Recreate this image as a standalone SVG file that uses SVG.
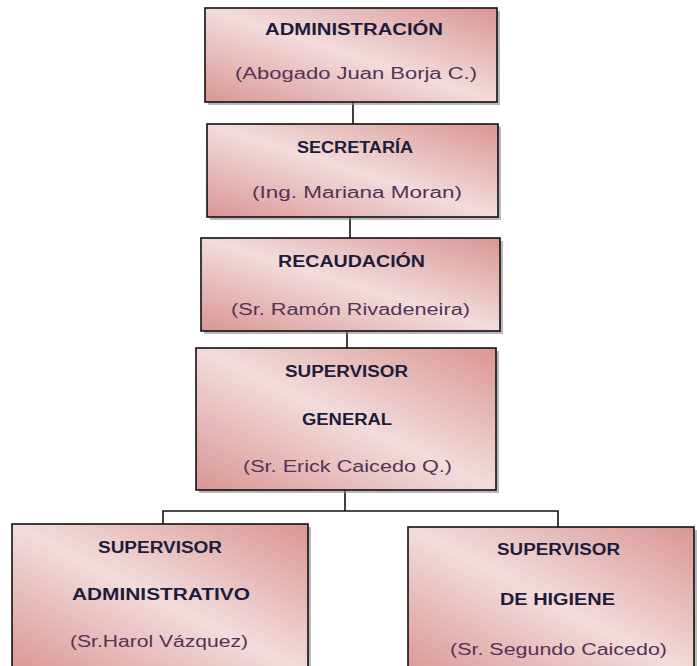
<svg xmlns="http://www.w3.org/2000/svg" width="697" height="666" viewBox="0 0 697 666">
<defs>
<linearGradient id="g" x1="0" y1="1" x2="1" y2="0">
<stop offset="0" stop-color="#d99694"/>
<stop offset="0.5" stop-color="#f2dcdb"/>
<stop offset="1" stop-color="#d99694"/>
</linearGradient>
<style>
.box{fill:url(#g);stroke:#111;stroke-width:1.6}
.sh{fill:#8a8a8a;opacity:0.6}
.t{font-family:"Liberation Sans",Arial,sans-serif;font-weight:bold;font-size:16px;fill:#1c1c3c;text-anchor:start}
.s{font-family:"Liberation Sans",Arial,sans-serif;font-size:16px;fill:#553355;text-anchor:start}
.c{fill:none;stroke:#111;stroke-width:1.6}
</style>
</defs>
<rect width="697" height="666" fill="#fff"/>
<g id="connectors">
<line class="c" x1="353" y1="102" x2="353" y2="124"/>
<line class="c" x1="350" y1="217" x2="350" y2="238"/>
<line class="c" x1="347" y1="331" x2="347" y2="348"/>
<polyline class="c" points="345,490 345,511"/>
<polyline class="c" points="163,524 163,511 558,511 558,527"/>
</g>
<g id="administracion">
<rect class="sh" x="208" y="11" width="292" height="94"/>
<rect class="box" x="205" y="8" width="292" height="94"/>
<text class="t" x="265" y="35" textLength="178" lengthAdjust="spacingAndGlyphs">ADMINISTRACIÓN</text>
<text class="s" x="235" y="79" textLength="242" lengthAdjust="spacingAndGlyphs">(Abogado Juan Borja C.)</text>
</g>
<g id="secretaria">
<rect class="sh" x="210" y="127" width="291" height="93"/>
<rect class="box" x="207" y="124" width="291" height="93"/>
<text class="t" x="297" y="153" textLength="116" lengthAdjust="spacingAndGlyphs">SECRETARÍA</text>
<text class="s" x="252" y="198" textLength="210" lengthAdjust="spacingAndGlyphs">(Ing. Mariana Moran)</text>
</g>
<g id="recaudacion">
<rect class="sh" x="204" y="241" width="299" height="93"/>
<rect class="box" x="201" y="238" width="299" height="93"/>
<text class="t" x="278" y="267" textLength="147" lengthAdjust="spacingAndGlyphs">RECAUDACIÓN</text>
<text class="s" x="231" y="315" textLength="239" lengthAdjust="spacingAndGlyphs">(Sr. Ramón Rivadeneira)</text>
</g>
<g id="supervisor-general">
<rect class="sh" x="199" y="351" width="300" height="142"/>
<rect class="box" x="196" y="348" width="300" height="142"/>
<text class="t" x="285" y="377" textLength="123" lengthAdjust="spacingAndGlyphs">SUPERVISOR</text>
<text class="t" x="302" y="425" textLength="90" lengthAdjust="spacingAndGlyphs">GENERAL</text>
<text class="s" x="243" y="472" textLength="209" lengthAdjust="spacingAndGlyphs">(Sr. Erick Caicedo Q.)</text>
</g>
<g id="supervisor-administrativo">
<rect class="sh" x="15" y="527" width="296" height="150"/>
<rect class="box" x="12" y="524" width="296" height="150"/>
<text class="t" x="98" y="553" textLength="124" lengthAdjust="spacingAndGlyphs">SUPERVISOR</text>
<text class="t" x="72" y="600" textLength="178" lengthAdjust="spacingAndGlyphs">ADMINISTRATIVO</text>
<text class="s" x="70" y="647" textLength="178" lengthAdjust="spacingAndGlyphs">(Sr.Harol Vázquez)</text>
</g>
<g id="supervisor-higiene">
<rect class="sh" x="411" y="530" width="286" height="150"/>
<rect class="box" x="408" y="527" width="286" height="150"/>
<text class="t" x="497" y="555" textLength="123" lengthAdjust="spacingAndGlyphs">SUPERVISOR</text>
<text class="t" x="500" y="605" textLength="115" lengthAdjust="spacingAndGlyphs">DE HIGIENE</text>
<text class="s" x="450" y="655" textLength="217" lengthAdjust="spacingAndGlyphs">(Sr. Segundo Caicedo)</text>
</g>
</svg>
